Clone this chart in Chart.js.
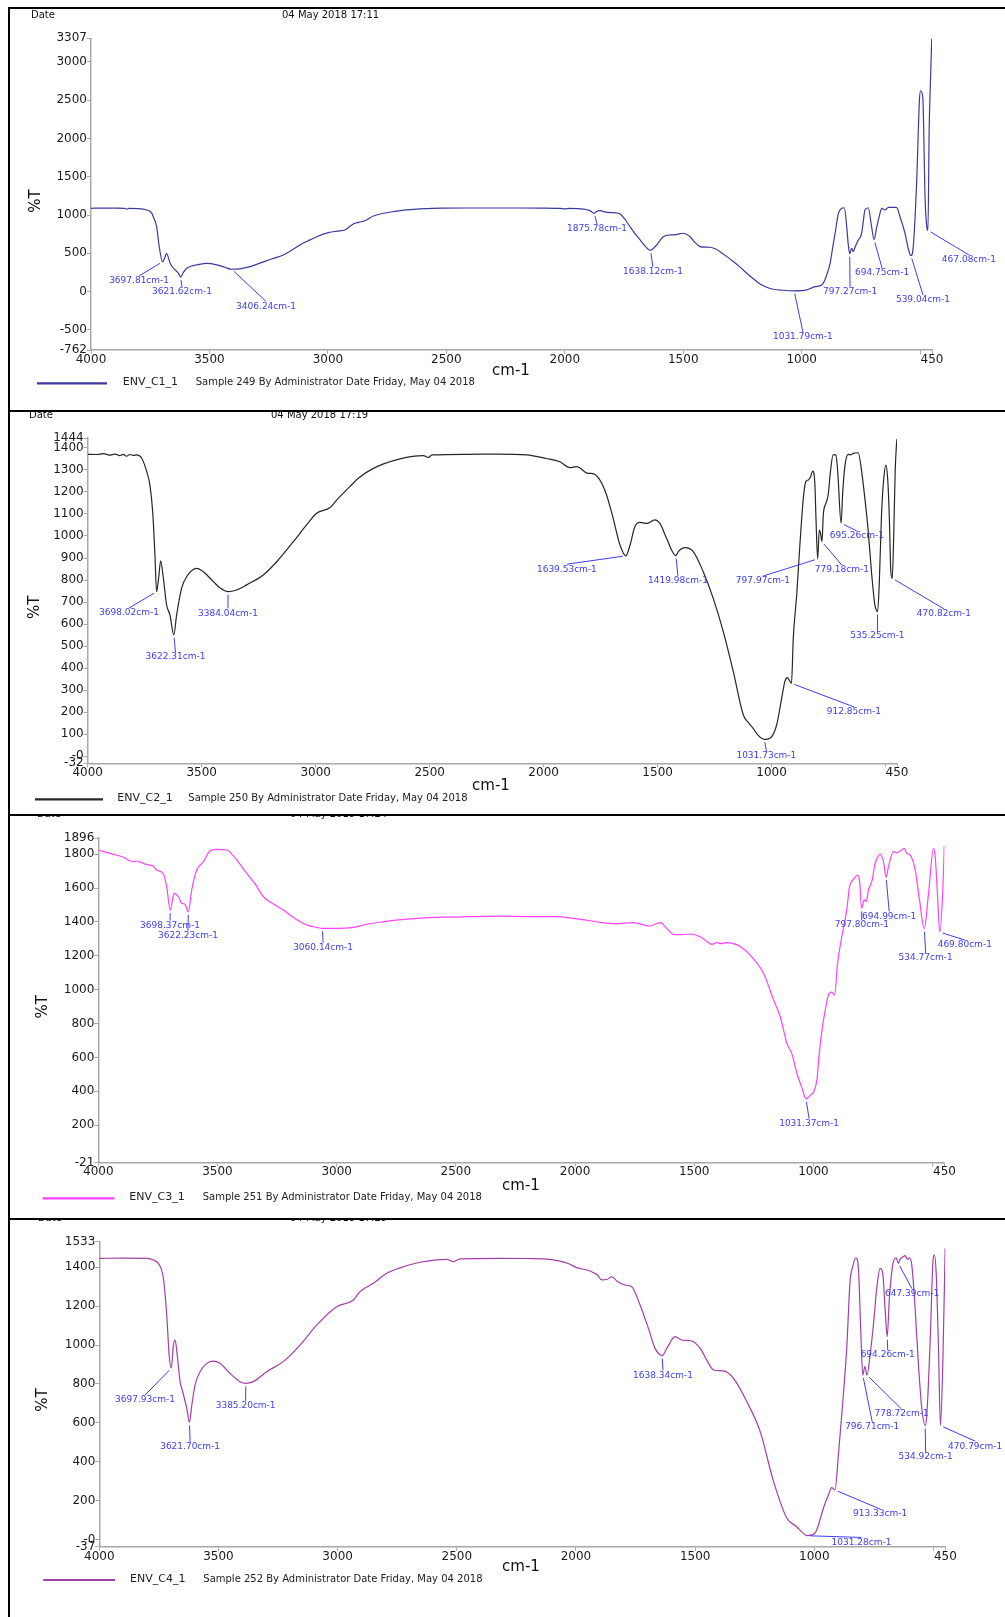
<!DOCTYPE html>
<html>
<head>
<meta charset="utf-8">
<script src="https://cdn.jsdelivr.net/npm/chart.js@4.4.1/dist/chart.umd.min.js"></script>
<style>
  html, body { margin: 0; padding: 0; background: #fff; }
  #sheet { position: relative; width: 1005px; height: 1617px; overflow: hidden; background: #fff; }
  #sheet canvas { position: absolute; left: 0; }
  .rule { position: absolute; background: #000; z-index: 2; }
</style>
</head>
<body>
<div id="sheet">
  <canvas id="p1" width="1005" height="410" style="top:0px"></canvas>
  <canvas id="p2" width="1005" height="404" style="top:410px"></canvas>
  <canvas id="p3" width="1005" height="404" style="top:814px"></canvas>
  <canvas id="p4" width="1005" height="399" style="top:1218px"></canvas>
  <div class="rule" style="left:8px;top:7px;width:997px;height:2px"></div>
  <div class="rule" style="left:8px;top:410px;width:997px;height:2px"></div>
  <div class="rule" style="left:8px;top:814px;width:997px;height:2px"></div>
  <div class="rule" style="left:8px;top:1218px;width:997px;height:2px"></div>
  <div class="rule" style="left:8px;top:7px;width:2px;height:1610px"></div>
</div>
<script>
// ---- wavenumber axis (shared) ----
const xTicks = [4000, 3500, 3000, 2500, 2000, 1500, 1000, 500, 450];
const xTickLabels = ['4000', '3500', '3000', '2500', '2000', '1500', '1000', '', '450'];

// ---- ENV_C1_1 ----
const c1Wave = [4000, 3950, 3900, 3860, 3849, 3840, 3800, 3765, 3745, 3737, 3723, 3712, 3697.81, 3689, 3682, 3676, 3666, 3645, 3632, 3621.62, 3610, 3596, 3575, 3554, 3512, 3469, 3435, 3406.24, 3370, 3329, 3293, 3258, 3223, 3188, 3153, 3118, 3083, 3047, 2998, 2960, 2928, 2910, 2893, 2870, 2843, 2808, 2770, 2724, 2680, 2625, 2560, 2513, 2400, 2200, 2100, 2020, 2000, 1980, 1920, 1894, 1875.78, 1866, 1851, 1830, 1809, 1785, 1767, 1745, 1725, 1703, 1682, 1660, 1638.12, 1625, 1612, 1598, 1584, 1570, 1556, 1530, 1500, 1485, 1471, 1450, 1429, 1410, 1387, 1365, 1345, 1317, 1288, 1260, 1232, 1204, 1176, 1148, 1120, 1080, 1031.79, 979, 960, 944, 916, 902, 890, 880, 870, 859, 845, 831, 820, 810, 803, 797.27, 789, 782, 775, 761, 747, 740, 733, 719, 705, 694.75, 683, 672, 662, 648, 634, 600, 585, 564, 550, 539.04, 529, 515, 503, 498, 489, 479, 472, 467.08, 462, 458, 451];
const c1T = [1088, 1090, 1089, 1086, 1078, 1086, 1084, 1066, 1030, 978, 848, 587, 390, 440, 495, 470, 370, 283, 245, 190, 250, 305, 335, 348, 368, 350, 318, 292, 298, 326, 365, 404, 440, 479, 540, 609, 665, 717, 770, 790, 805, 845, 883, 905, 926, 987, 1020, 1045, 1063, 1078, 1087, 1090, 1092, 1092, 1091, 1088, 1080, 1086, 1078, 1057, 1022, 1045, 1058, 1040, 1031, 1028, 1013, 940, 848, 755, 674, 590, 540, 568, 609, 670, 717, 735, 740, 745, 762, 745, 717, 640, 587, 580, 579, 560, 522, 460, 391, 320, 240, 168, 100, 58, 31, 18, 10, 22, 45, 65, 87, 153, 260, 370, 560, 762, 1022, 1088, 1095, 848, 600, 495, 566, 522, 580, 674, 762, 920, 1066, 1095, 848, 680, 848, 990, 1088, 1066, 1100, 1100, 978, 762, 560, 470, 587, 1414, 2500, 2622, 2543, 1196, 848, 800, 2100, 2600, 3300];
const c1Peaks = [3697.81, 3621.62, 3406.24, 1875.78, 1638.12, 1031.79, 797.27, 694.75, 539.04, 467.08];
const c1YTicks = [-762, -500, 0, 500, 1000, 1500, 2000, 2500, 3000, 3307];
const c1YTickLabels = ['-762', '-500', '0', '500', '1000', '1500', '2000', '2500', '3000', '3307'];

// ---- ENV_C2_1 ----
const c2Wave = [4000, 3960, 3930, 3905, 3880, 3860, 3845, 3830, 3815, 3800, 3785, 3763, 3741, 3727, 3715, 3705, 3698.02, 3689, 3680, 3668, 3654, 3639, 3622.31, 3610, 3588, 3566, 3522, 3493, 3449, 3420, 3384.04, 3347, 3303, 3230, 3171, 3098, 3040, 2996, 2937, 2908, 2850, 2813, 2747, 2630, 2528, 2506, 2490, 2338, 2200, 2075, 1990, 1929, 1885, 1855, 1804, 1790, 1753, 1724, 1695, 1665, 1639.53, 1621, 1600, 1578, 1548, 1512, 1490, 1461, 1419.98, 1409, 1380, 1344, 1300, 1256, 1212, 1168, 1124, 1100, 1081, 1060, 1031.73, 1007, 978, 956, 942, 931, 912.85, 905, 890, 876, 861, 850, 839, 829, 820, 810, 806, 797.97, 791, 785, 779.18, 773, 762, 752, 742, 730, 718, 710, 695.26, 688, 678, 664, 654, 642, 620, 605, 591, 576, 562, 547, 535.25, 528, 518, 508, 499, 491, 484, 477, 470.82, 464, 458, 453, 450];
const c2T = [1371, 1370, 1374, 1367, 1372, 1365, 1371, 1362, 1370, 1366, 1368, 1353, 1292, 1231, 1110, 914, 747, 808, 887, 808, 687, 641, 551, 641, 763, 815, 853, 838, 793, 765, 747, 755, 778, 823, 883, 974, 1050, 1103, 1129, 1163, 1224, 1262, 1307, 1350, 1365, 1356, 1368, 1371, 1372, 1368, 1352, 1337, 1310, 1315, 1284, 1284, 1254, 1186, 1080, 959, 910, 959, 1042, 1062, 1057, 1073, 1057, 990, 911, 929, 947, 929, 838, 717, 566, 384, 187, 150, 127, 96, 77, 82, 142, 263, 339, 357, 331, 536, 732, 959, 1171, 1247, 1254, 1269, 1295, 1232, 1100, 896, 1027, 1010, 974, 1100, 1148, 1186, 1292, 1368, 1368, 1292, 1058, 1201, 1322, 1371, 1368, 1375, 1378, 1292, 1171, 1020, 838, 687, 657, 778, 1095, 1262, 1322, 1262, 1095, 838, 808, 1020, 1292, 1405, 1440];
const c2Peaks = [3698.02, 3622.31, 3384.04, 1639.53, 1419.98, 1031.73, 912.85, 797.97, 779.18, 695.26, 535.25, 470.82];
const c2YTicks = [-32, 0, 100, 200, 300, 400, 500, 600, 700, 800, 900, 1000, 1100, 1200, 1300, 1400, 1444];
const c2YTickLabels = ['-32', '-0', '100', '200', '300', '400', '500', '600', '700', '800', '900', '1000', '1100', '1200', '1300', '1400', '1444'];

// ---- ENV_C3_1 ----
const c3Wave = [4000, 3950, 3900, 3853, 3840, 3800, 3770, 3755, 3727, 3713, 3698.37, 3690, 3682, 3664, 3650, 3636, 3622.23, 3608, 3587, 3559, 3531, 3503, 3461, 3433, 3405, 3377, 3340, 3307, 3270, 3223, 3190, 3153, 3120, 3084, 3060.14, 3014, 2930, 2880, 2804, 2740, 2664, 2550, 2454, 2314, 2200, 2077, 1990, 1895, 1830, 1755, 1685, 1643, 1615, 1585, 1545, 1517, 1475, 1447, 1426, 1405, 1384, 1363, 1335, 1307, 1265, 1209, 1167, 1139, 1111, 1090, 1069, 1048, 1031.37, 1020, 1013, 999, 985, 978, 964, 950, 937, 923, 911, 899, 881, 860, 849, 842, 832, 815, 806, 797.80, 787, 778, 769, 755, 741, 727, 720, 706, 694.99, 685, 664, 650, 636, 619, 608, 594, 573, 555, 534.77, 517, 496, 489, 479, 469.80, 457, 451];
const c3T = [1825, 1805, 1785, 1756, 1760, 1740, 1730, 1707, 1683, 1608, 1470, 1520, 1569, 1549, 1510, 1505, 1460, 1589, 1707, 1756, 1821, 1829, 1825, 1790, 1740, 1687, 1620, 1549, 1510, 1470, 1435, 1401, 1380, 1368, 1362, 1362, 1368, 1385, 1401, 1412, 1421, 1428, 1431, 1434, 1432, 1431, 1418, 1398, 1390, 1396, 1376, 1396, 1362, 1325, 1326, 1329, 1313, 1285, 1268, 1278, 1272, 1278, 1272, 1255, 1204, 1096, 939, 840, 683, 620, 505, 420, 355, 365, 377, 396, 470, 584, 761, 880, 968, 985, 968, 1150, 1313, 1470, 1604, 1633, 1652, 1677, 1638, 1480, 1530, 1520, 1589, 1638, 1746, 1790, 1800, 1756, 1665, 1727, 1815, 1809, 1819, 1835, 1805, 1795, 1707, 1530, 1360, 1569, 1835, 1785, 1549, 1340, 1589, 1849];
const c3Peaks = [3698.37, 3622.23, 3060.14, 1031.37, 797.80, 694.99, 534.77, 469.80];
const c3YTicks = [-21, 200, 400, 600, 800, 1000, 1200, 1400, 1600, 1800, 1896];
const c3YTickLabels = ['-21', '200', '400', '600', '800', '1000', '1200', '1400', '1600', '1800', '1896'];

// ---- ENV_C4_1 ----
const c4Wave = [4000, 3900, 3801, 3773, 3748, 3731, 3717, 3707, 3697.93, 3689, 3682, 3673, 3661, 3650, 3633, 3621.70, 3612, 3598, 3577, 3549, 3521, 3494, 3452, 3410, 3385.20, 3354, 3298, 3228, 3158, 3088, 3004, 2934, 2906, 2850, 2794, 2738, 2654, 2542, 2514, 2486, 2319, 2200, 2109, 2067, 2030, 1997, 1941, 1910, 1892, 1871, 1850, 1829, 1794, 1766, 1731, 1696, 1668, 1638.34, 1619, 1584, 1556, 1514, 1479, 1450, 1423, 1381, 1339, 1283, 1227, 1171, 1115, 1074, 1046, 1031.28, 1000, 990, 962, 941, 927, 913.33, 899, 885, 864, 850, 839, 825, 815, 805, 796.71, 788, 778.72, 766, 752, 738, 724, 713, 703, 694.26, 685, 671, 657, 647.39, 640, 633, 619, 609, 601, 591, 577, 563, 549, 534.92, 528, 514, 503, 496, 489, 479, 470.79, 461, 451];
const c4T = [1446, 1447, 1446, 1437, 1412, 1343, 1155, 949, 881, 1000, 1026, 949, 812, 760, 675, 603, 690, 795, 863, 906, 918, 906, 855, 812, 803, 812, 863, 915, 1000, 1103, 1197, 1232, 1275, 1318, 1369, 1397, 1426, 1441, 1429, 1443, 1446, 1445, 1441, 1432, 1418, 1398, 1381, 1360, 1335, 1337, 1352, 1330, 1309, 1300, 1206, 1086, 983, 946, 983, 1043, 1026, 1021, 983, 920, 872, 867, 829, 709, 555, 298, 110, 66, 32, 20, 30, 49, 161, 229, 267, 255, 435, 641, 983, 1326, 1403, 1449, 1394, 1069, 846, 889, 846, 949, 1103, 1292, 1394, 1369, 1189, 1043, 1240, 1412, 1449, 1420, 1442, 1449, 1460, 1440, 1449, 1412, 1189, 898, 675, 586, 641, 1017, 1412, 1463, 1378, 984, 586, 898, 1497];
const c4Peaks = [3697.93, 3621.70, 3385.20, 1638.34, 1031.28, 913.33, 796.71, 778.72, 694.26, 647.39, 534.92, 470.79];
const c4YTicks = [-37, 0, 200, 400, 600, 800, 1000, 1200, 1400, 1533];
const c4YTickLabels = ['-37', '-0', '200', '400', '600', '800', '1000', '1200', '1400', '1533'];

// ---- page layout (canvas pixels) and peak-label anchors (cm-1, %T) ----
const panels = [
  {
    canvas: 'p1', name: 'ENV_C1_1', sample: 'Sample 249 By Administrator Date Friday, May 04 2018',
    stamp: '04 May 2018 17:11', color: '#3a3a9e',
    wave: c1Wave, t: c1T, peaks: c1Peaks, yTicks: c1YTicks, yLabels: c1YTickLabels,
    labelAt: [[3797, 205], [3616, 61], [3261, -128], [1864, 883], [1628, 322], [995, -526], [796, 61], [661, 309], [488, -43], [294, 479]],
    area: { left: 91, right: 932, top: 38.3, bottom: 350, height: 410 },
    head: { dateX: 31, stampX: 282, y: 15 }, yTitle: [36, 201], xTitle: [511, 371],
    legend: { x0: 37, x1: 107, y: 383.3, nameX: 122.7, sampleX: 195.7 }
  },
  {
    canvas: 'p2', name: 'ENV_C2_1', sample: 'Sample 250 By Administrator Date Friday, May 04 2018',
    stamp: '04 May 2018 17:19', color: '#262626',
    wave: c2Wave, t: c2T, peaks: c2Peaks, yTicks: c2YTicks, yLabels: c2YTickLabels,
    labelAt: [[3819, 673], [3615, 473], [3385, 671], [1898, 872], [1411, 818], [1023, 24], [639, 224], [1038, 818], [692, 868], [626, 1023], [536, 569], [244, 669]],
    area: { left: 87.7, right: 897, top: 28.2, bottom: 353.3, height: 404 },
    head: { dateX: 29, stampX: 271, y: 5 }, yTitle: [35, 197.3], xTitle: [491, 376],
    legend: { x0: 35, x1: 103, y: 389.3, nameX: 117.3, sampleX: 188.3 }
  },
  {
    canvas: 'p3', name: 'ENV_C3_1', sample: 'Sample 251 By Administrator Date Friday, May 04 2018',
    stamp: '04 May 2018 17:24', color: '#ff40ff',
    wave: c3Wave, t: c3T, peaks: c3Peaks, yTicks: c3YTicks, yLabels: c3YTickLabels,
    labelAt: [[3699, 1408], [3624, 1346], [3057, 1277], [1018, 238], [797, 1411], [682, 1462], [529, 1216], [365, 1293]],
    area: { left: 98.3, right: 944.5, top: 24, bottom: 348.5, height: 404 },
    head: { dateX: 37, stampX: 290, y: 0 }, yTitle: [42.7, 192.7], xTitle: [521, 371.7],
    legend: { x0: 42.7, x1: 114.3, y: 384.3, nameX: 129.3, sampleX: 202.7 }
  },
  {
    canvas: 'p4', name: 'ENV_C4_1', sample: 'Sample 252 By Administrator Date Friday, May 04 2018',
    stamp: '04 May 2018 17:29', color: '#a23ea8',
    wave: c4Wave, t: c4T, peaks: c4Peaks, yTicks: c4YTicks, yLabels: c4YTickLabels,
    labelAt: [[3808, 743], [3619, 502], [3386, 713], [1635, 869], [802, 11], [724, 157], [757, 605], [634, 671], [692, 974], [590, 1289], [533, 450], [325, 506]],
    area: { left: 99.3, right: 945.4, top: 23.4, bottom: 328.8, height: 399 },
    head: { dateX: 38, stampX: 290, y: 0 }, yTitle: [43.3, 182], xTitle: [521, 349.3],
    legend: { x0: 43.3, x1: 115, y: 362, nameX: 130, sampleX: 203.3 }
  }
];

const FONT = '"DejaVu Sans", "Liberation Sans", sans-serif';
const AXIS_GREY = '#a8a8a8';
const PEAK_BLUE = '#3c3cf5';
const Y_BOX = 60;   // fixed width of the %T axis box
const X_BOX = 30;   // fixed height of the cm-1 axis box

function valueAt(wave, t, w) {
  for (let i = 0; i < wave.length - 1; i++) {
    const a = wave[i], b = wave[i + 1];
    if (w === a) return t[i];
    if ((w < a && w > b) || (w > a && w < b)) {
      return t[i] + (t[i + 1] - t[i]) * (w - a) / (b - a);
    }
  }
  return t[t.length - 1];
}

function decorations(p) {
  return {
    id: 'decor_' + p.canvas,
    afterDatasetsDraw(chart) {
      const ctx = chart.ctx;
      const xs = chart.scales.x, ys = chart.scales.y;
      ctx.save();

      // header line
      ctx.fillStyle = '#111';
      ctx.font = '10px ' + FONT;
      ctx.textAlign = 'left';
      ctx.textBaseline = 'middle';
      ctx.fillText('Date', p.head.dateX, p.head.y);
      ctx.fillText(p.stamp, p.head.stampX, p.head.y);

      // axis titles
      ctx.save();
      ctx.translate(p.yTitle[0], p.yTitle[1]);
      ctx.rotate(-Math.PI / 2);
      ctx.font = '15px ' + FONT;
      ctx.textAlign = 'center';
      ctx.fillStyle = '#111';
      ctx.fillText('%T', 0, 0);
      ctx.restore();
      ctx.font = '15px ' + FONT;
      ctx.textAlign = 'center';
      ctx.fillText('cm-1', p.xTitle[0], p.xTitle[1]);

      // legend row
      ctx.strokeStyle = p.color;
      ctx.lineWidth = 2.2;
      ctx.beginPath();
      ctx.moveTo(p.legend.x0, p.legend.y);
      ctx.lineTo(p.legend.x1, p.legend.y);
      ctx.stroke();
      ctx.fillStyle = '#222';
      ctx.textAlign = 'left';
      ctx.font = '11px ' + FONT;
      ctx.fillText(p.name, p.legend.nameX, p.legend.y - 1);
      ctx.font = '10px ' + FONT;
      ctx.fillText(p.sample, p.legend.sampleX, p.legend.y - 1);

      // peak annotations
      ctx.strokeStyle = PEAK_BLUE;
      ctx.fillStyle = PEAK_BLUE;
      ctx.lineWidth = 1;
      ctx.font = '9px ' + FONT;
      ctx.textAlign = 'center';
      ctx.textBaseline = 'top';
      p.peaks.forEach((w, i) => {
        const v = valueAt(p.wave, p.t, w);
        const px = xs.getPixelForValue(w), py = ys.getPixelForValue(v);
        const lx = xs.getPixelForValue(p.labelAt[i][0]);
        const ly = ys.getPixelForValue(p.labelAt[i][1]);
        const dx = lx - px, dy = ly - py;
        const len = Math.hypot(dx, dy) || 1;
        const gap = Math.min(3, len / 3);
        ctx.beginPath();
        ctx.moveTo(px + dx / len * gap, py + dy / len * gap);
        ctx.lineTo(lx, ly);
        ctx.stroke();
        ctx.fillText(w.toFixed(2) + 'cm-1', lx, ly + 0.5);
      });
      ctx.restore();
    }
  };
}

function build(p) {
  const a = p.area;
  const data = p.wave.map((w, i) => ({ x: w, y: p.t[i] }));
  new Chart(document.getElementById(p.canvas), {
    type: 'line',
    data: {
      datasets: [{
        label: p.name,
        data: data,
        borderColor: p.color,
        borderWidth: 1.2,
        pointRadius: 0,
        fill: false,
        cubicInterpolationMode: 'monotone'
      }]
    },
    options: {
      responsive: false,
      animation: false,
      devicePixelRatio: 1,
      events: [],
      layout: {
        padding: {
          left: a.left - Y_BOX,
          right: 1005 - a.right,
          top: a.top,
          bottom: a.height - a.bottom - X_BOX
        }
      },
      plugins: { legend: { display: false }, tooltip: { enabled: false }, title: { display: false } },
      scales: {
        x: {
          type: 'linear',
          reverse: true,
          min: 450,
          max: 4000,
          afterBuildTicks: (s) => { s.ticks = xTicks.map(v => ({ value: v })); },
          afterFit: (s) => { s.height = X_BOX; },
          ticks: {
            autoSkip: false,
            maxRotation: 0,
            padding: 0,
            color: '#1a1a1a',
            font: { family: FONT, size: 12, lineHeight: 0.95 },
            callback: (v) => { const k = xTicks.indexOf(v); return k < 0 ? '' : xTickLabels[k]; }
          },
          grid: { display: true, drawOnChartArea: false, drawTicks: true, tickLength: 4, color: AXIS_GREY, lineWidth: 1 },
          border: { display: true, color: AXIS_GREY, width: 1.5 }
        },
        y: {
          type: 'linear',
          min: p.yTicks[0],
          max: p.yTicks[p.yTicks.length - 1],
          afterBuildTicks: (s) => { s.ticks = p.yTicks.map(v => ({ value: v })); },
          afterFit: (s) => { s.width = Y_BOX; },
          ticks: {
            autoSkip: false,
            padding: 0,
            color: '#1a1a1a',
            font: { family: FONT, size: 12 },
            callback: (v) => { const k = p.yTicks.indexOf(v); return k < 0 ? '' : p.yLabels[k]; }
          },
          grid: { display: true, drawOnChartArea: false, drawTicks: true, tickLength: 4, color: AXIS_GREY, lineWidth: 1 },
          border: { display: true, color: AXIS_GREY, width: 1.5 }
        }
      }
    },
    plugins: [decorations(p)]
  });
}

panels.forEach(build);
</script>
</body>
</html>
